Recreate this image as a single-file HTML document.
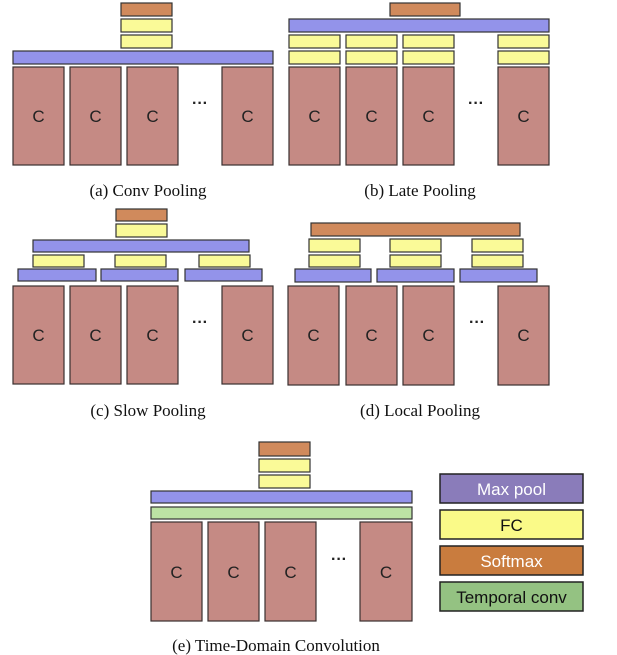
<!DOCTYPE html>
<html><head><meta charset="utf-8"><style>body{margin:0;background:#fff}svg{display:block}</style></head><body>
<svg width="617" height="655" viewBox="0 0 617 655" xmlns="http://www.w3.org/2000/svg" font-family="Liberation Sans, sans-serif">
<defs><style>
.c{fill:#c58a84;stroke:#3a3030;stroke-width:1.2}
.m{fill:#9393ea;stroke:#333;stroke-width:1.2}
.f{fill:#fafa98;stroke:#333;stroke-width:1.2}
.s{fill:#d08a5c;stroke:#333;stroke-width:1.2}
.g{fill:#bce2a4;stroke:#333;stroke-width:1.2}
.ct{font-size:17px;fill:#222;text-anchor:middle}
.cap{font-family:"Liberation Serif",serif;font-size:17px;fill:#111;text-anchor:middle}
.d{font-size:16px;font-weight:bold;fill:#222;text-anchor:middle}
</style></defs>
<!-- (a) -->
<rect class="s" x="121" y="3" width="51" height="13"/>
<rect class="f" x="121" y="19" width="51" height="13"/>
<rect class="f" x="121" y="35" width="51" height="13"/>
<rect class="m" x="13" y="51" width="260" height="13"/>
<g><rect class="c" x="13" y="67" width="51" height="98"/><rect class="c" x="70" y="67" width="51" height="98"/><rect class="c" x="127" y="67" width="51" height="98"/><rect class="c" x="222" y="67" width="51" height="98"/>
<text class="ct" x="38.5" y="122">C</text><text class="ct" x="95.5" y="122">C</text><text class="ct" x="152.5" y="122">C</text><text class="ct" x="247.5" y="122">C</text>
<text class="d" x="200" y="108">···</text></g>
<text class="cap" x="148" y="196">(a) Conv Pooling</text>
<!-- (b) -->
<rect class="s" x="390" y="3" width="70" height="13"/>
<rect class="m" x="289" y="19" width="260" height="13"/>
<g>
<rect class="f" x="289" y="35" width="51" height="13"/><rect class="f" x="346" y="35" width="51" height="13"/><rect class="f" x="403" y="35" width="51" height="13"/><rect class="f" x="498" y="35" width="51" height="13"/>
<rect class="f" x="289" y="51" width="51" height="13"/><rect class="f" x="346" y="51" width="51" height="13"/><rect class="f" x="403" y="51" width="51" height="13"/><rect class="f" x="498" y="51" width="51" height="13"/>
<rect class="c" x="289" y="67" width="51" height="98"/><rect class="c" x="346" y="67" width="51" height="98"/><rect class="c" x="403" y="67" width="51" height="98"/><rect class="c" x="498" y="67" width="51" height="98"/>
<text class="ct" x="314.5" y="122">C</text><text class="ct" x="371.5" y="122">C</text><text class="ct" x="428.5" y="122">C</text><text class="ct" x="523.5" y="122">C</text>
<text class="d" x="476" y="108">···</text></g>
<text class="cap" x="420" y="196">(b) Late Pooling</text>
<!-- (c) -->
<rect class="s" x="116" y="209" width="51" height="12"/>
<rect class="f" x="116" y="224" width="51" height="13"/>
<rect class="m" x="33" y="240" width="216" height="12"/>
<rect class="f" x="33" y="255" width="51" height="12"/><rect class="f" x="115" y="255" width="51" height="12"/><rect class="f" x="199" y="255" width="51" height="12"/>
<rect class="m" x="18" y="269" width="78" height="12"/><rect class="m" x="101" y="269" width="77" height="12"/><rect class="m" x="185" y="269" width="77" height="12"/>
<rect class="c" x="13" y="286" width="51" height="98"/><rect class="c" x="70" y="286" width="51" height="98"/><rect class="c" x="127" y="286" width="51" height="98"/><rect class="c" x="222" y="286" width="51" height="98"/>
<text class="ct" x="38.5" y="341">C</text><text class="ct" x="95.5" y="341">C</text><text class="ct" x="152.5" y="341">C</text><text class="ct" x="247.5" y="341">C</text>
<text class="d" x="200" y="327">···</text>
<text class="cap" x="148" y="416">(c) Slow Pooling</text>
<!-- (d) -->
<rect class="s" x="311" y="223" width="209" height="13"/>
<rect class="f" x="309" y="239" width="51" height="13"/><rect class="f" x="390" y="239" width="51" height="13"/><rect class="f" x="472" y="239" width="51" height="13"/>
<rect class="f" x="309" y="255" width="51" height="12"/><rect class="f" x="390" y="255" width="51" height="12"/><rect class="f" x="472" y="255" width="51" height="12"/>
<rect class="m" x="295" y="269" width="76" height="13"/><rect class="m" x="377" y="269" width="77" height="13"/><rect class="m" x="460" y="269" width="77" height="13"/>
<rect class="c" x="288" y="286" width="51" height="99"/><rect class="c" x="346" y="286" width="51" height="99"/><rect class="c" x="403" y="286" width="51" height="99"/><rect class="c" x="498" y="286" width="51" height="99"/>
<text class="ct" x="313.5" y="341">C</text><text class="ct" x="371.5" y="341">C</text><text class="ct" x="428.5" y="341">C</text><text class="ct" x="523.5" y="341">C</text>
<text class="d" x="477" y="327">···</text>
<text class="cap" x="420" y="416">(d) Local Pooling</text>
<!-- (e) -->
<rect class="s" x="259" y="442" width="51" height="14"/>
<rect class="f" x="259" y="459" width="51" height="13"/>
<rect class="f" x="259" y="475" width="51" height="13"/>
<rect class="m" x="151" y="491" width="261" height="12"/>
<rect class="g" x="151" y="507" width="261" height="12"/>
<rect class="c" x="151" y="522" width="51" height="99"/><rect class="c" x="208" y="522" width="51" height="99"/><rect class="c" x="265" y="522" width="51" height="99"/><rect class="c" x="360" y="522" width="52" height="99"/>
<text class="ct" x="176.5" y="578">C</text><text class="ct" x="233.5" y="578">C</text><text class="ct" x="290.5" y="578">C</text><text class="ct" x="386" y="578">C</text>
<text class="d" x="339" y="564">···</text>
<text class="cap" x="276" y="651">(e) Time-Domain Convolution</text>
<!-- legend -->
<rect x="440" y="474" width="143" height="29" fill="#8a7cba" stroke="#222" stroke-width="1.5"/>
<text x="511.5" y="495" font-size="17" fill="#fff" text-anchor="middle">Max pool</text>
<rect x="440" y="510" width="143" height="29" fill="#fafa88" stroke="#222" stroke-width="1.5"/>
<text x="511.5" y="531" font-size="17" fill="#111" text-anchor="middle">FC</text>
<rect x="440" y="546" width="143" height="29" fill="#c97c3e" stroke="#222" stroke-width="1.5"/>
<text x="511.5" y="567" font-size="17" fill="#fff" text-anchor="middle">Softmax</text>
<rect x="440" y="582" width="143" height="29" fill="#94c282" stroke="#222" stroke-width="1.5"/>
<text x="511.5" y="603" font-size="17" fill="#111" text-anchor="middle">Temporal conv</text>
</svg>
</body></html>
